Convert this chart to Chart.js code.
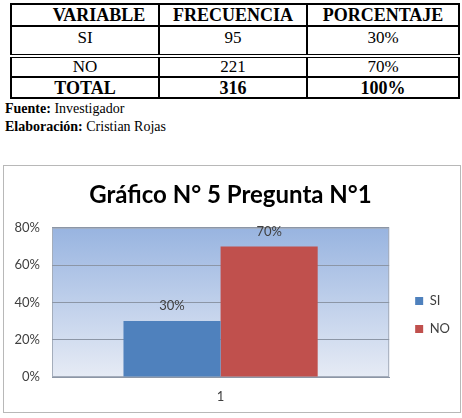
<!DOCTYPE html>
<html>
<head>
<meta charset="utf-8">
<script src="https://cdn.jsdelivr.net/npm/chart.js@4.4.0/dist/chart.umd.min.js"></script>
<style>
  body { margin: 0; background: #fff; width: 462px; height: 418px; position: relative; overflow: hidden; }
  #tabla { position: absolute; left: 10px; top: 3px; width: 448px; border-collapse: collapse; table-layout: fixed;
           font-family: "Liberation Serif", "Times New Roman", serif; color: #000; }
  #tabla td, #tabla th { border: 2px solid #000; text-align: center; padding: 0; line-height: 18px; }
  #tabla th { font-size: 18px; height: 20px; }
  #tabla td { font-size: 17px; }
  #notas { position: absolute; left: 5px; top: 100px; font-family: "Liberation Serif", serif; font-size: 14px; line-height: 18px; }
  #caja { position: absolute; left: 3px; top: 165px; width: 458px; height: 248px; box-sizing: border-box; border: 1px solid #b8b8b8; }
</style>
</head>
<body>
<table id="tabla"></table>
<div id="notas"><b>Fuente:</b> Investigador<br><b>Elaboración:</b> Cristian Rojas</div>
<div id="caja"><canvas id="grafico"></canvas></div>
<script>
// datos de la tabla
const tableHeaders = ['VARIABLE', 'FRECUENCIA', 'PORCENTAJE'];
const tableVariables = ['SI', 'NO'];
const tableFrequencies = [95, 221];
const tablePercents = ['30%', '70%'];
const tableTotal = ['TOTAL', '316', '100%'];

// datos del grafico
const categories = ['1'];
const seriesNames = ['SI', 'NO'];
const siValues = [30];
const noValues = [70];
const seriesColors = ['#4f81bd', '#c0504d'];
const yTicks = [0, 20, 40, 60, 80];

// armar la tabla
const tabla = document.getElementById('tabla');
let html = '<colgroup><col style="width:148px"><col style="width:148px"><col style="width:152px"></colgroup>';
html += '<tr>' + tableHeaders.map((h, i) =>
  '<th style="' + (i === 0 ? 'padding-left:28px' : '') + '">' + h + '</th>').join('') + '</tr>';
const rowStyles = ['height:25px;vertical-align:top;padding-top:2px',
                   'height:17px;border-top:4px double #000'];
tableVariables.forEach((v, i) => {
  const st = ' style="' + rowStyles[i] + '"';
  html += '<tr><td' + st + '>' + v + '</td><td' + st + '>' + tableFrequencies[i] +
    '</td><td' + st + '>' + tablePercents[i] + '</td></tr>';
});
html += '<tr style="height:21px">' + tableTotal.map(t => '<td style="font-size:18px"><b>' + t + '</b></td>').join('') + '</tr>';
tabla.innerHTML = html;

// fondo degradado del area de trazado
const plotBackground = {
  id: 'plotBackground',
  beforeDraw(chart) {
    const { ctx, chartArea: a } = chart;
    const g = ctx.createLinearGradient(0, a.top, 0, a.bottom);
    g.addColorStop(0, '#98b4e0');
    g.addColorStop(1, '#e6ebf5');
    ctx.save();
    ctx.fillStyle = g;
    ctx.fillRect(a.left, a.top, a.right - a.left, a.bottom - a.top);
    ctx.strokeStyle = '#a4adbb';
    ctx.lineWidth = 1;
    ctx.strokeRect(a.left + 0.5, a.top + 0.5, a.right - a.left - 1, a.bottom - a.top - 1);
    ctx.restore();
  }
};

// etiquetas encima de las barras
const barLabels = {
  id: 'barLabels',
  afterDatasetsDraw(chart) {
    const ctx = chart.ctx;
    ctx.save();
    ctx.font = '13px Lato';
    ctx.fillStyle = '#404040';
    ctx.textAlign = 'center';
    ctx.textBaseline = 'middle';
    chart.data.datasets.forEach((ds, i) => {
      chart.getDatasetMeta(i).data.forEach((bar, j) => {
        ctx.fillText(ds.data[j] + '%', bar.x, bar.y - 15);
      });
    });
    ctx.restore();
  }
};

// separa la leyenda del area de trazado y la baja un poco
const legendShift = {
  id: 'legendShift',
  afterLayout(chart) {
    const l = chart.legend;
    l.left += 11;
    l.right += 11;
    l.top += 26;
    l.bottom += 26;
  }
};

new Chart(document.getElementById('grafico'), {
  type: 'bar',
  data: {
    labels: categories,
    datasets: [
      { label: seriesNames[0], data: siValues, backgroundColor: seriesColors[0] },
      { label: seriesNames[1], data: noValues, backgroundColor: seriesColors[1] }
    ]
  },
  options: {
    responsive: true,
    maintainAspectRatio: false,
    animation: false,
    layout: { padding: { left: 8, right: 11, top: 0, bottom: 0 } },
    datasets: { bar: { categoryPercentage: 0.576, barPercentage: 1 } },
    plugins: {
      title: {
        display: true,
        text: 'Gráfico N° 5 Pregunta N°1',
        color: '#000',
        font: { family: 'Lato', size: 24, weight: 'bold' },
        padding: { top: 15, bottom: 18 }
      },
      legend: {
        position: 'right',
        labels: {
          boxWidth: 8,
          boxHeight: 8,
          padding: 15,
          color: '#404040',
          font: { family: 'Lato', size: 13 }
        }
      },
      tooltip: { enabled: false }
    },
    scales: {
      x: {
        afterFit: s => { s.height = 35; },
        grid: { display: false, drawTicks: false },
        border: { color: '#8c96a6' },
        ticks: { color: '#404040', font: { family: 'Lato', size: 13 }, padding: 12 }
      },
      y: {
        min: yTicks[0],
        max: yTicks[yTicks.length - 1],
        afterBuildTicks: axis => { axis.ticks = yTicks.map(v => ({ value: v })); },
        afterFit: s => { s.width = 40; },
        grid: { color: '#8c96a6', drawTicks: false },
        border: { display: false },
        ticks: { color: '#404040', font: { family: 'Lato', size: 13 }, padding: 12,
                 callback: v => v + '%' }
      }
    }
  },
  plugins: [plotBackground, barLabels, legendShift]
});
</script>
</body>
</html>
